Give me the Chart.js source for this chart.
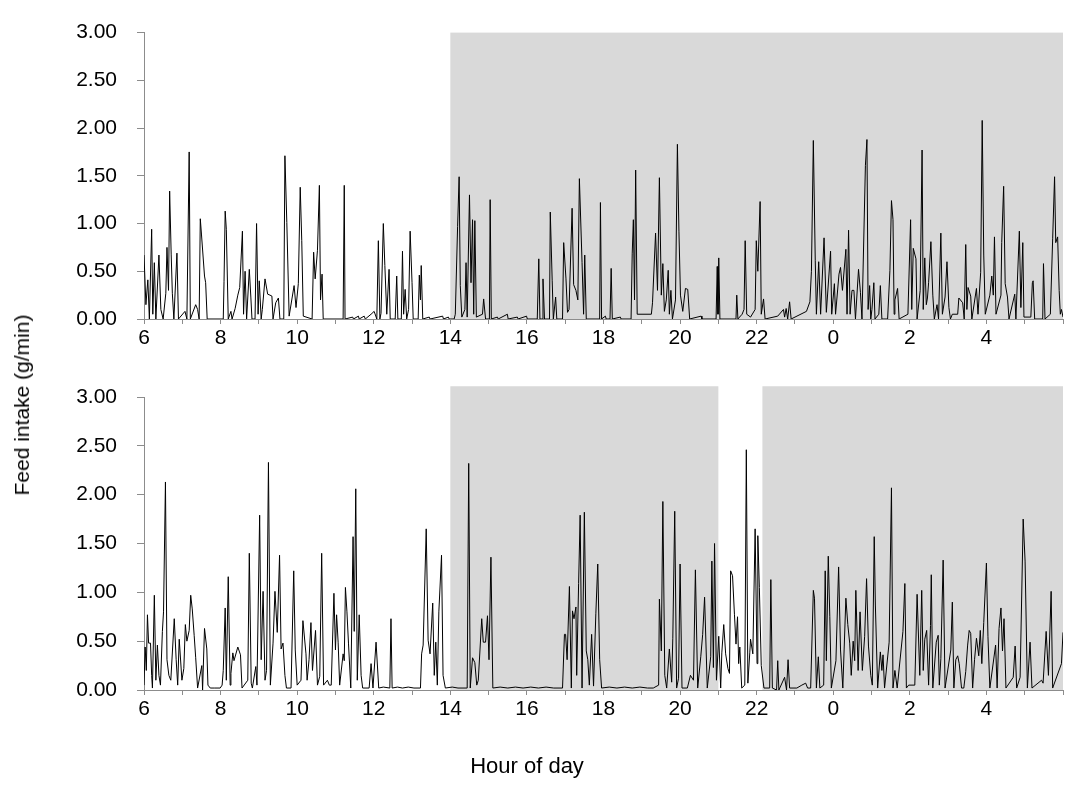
<!DOCTYPE html>
<html>
<head>
<meta charset="utf-8">
<script src="https://cdn.jsdelivr.net/npm/chart.js@4.4.1/dist/chart.umd.min.js"></script>
<style>
  html, body { margin: 0; padding: 0; background: #fff; }
  body { width: 1065px; height: 811px; position: relative; overflow: hidden; font-family: 'Liberation Sans', Arial, sans-serif; }
  canvas { position: absolute; left: 0; }
  #top { top: 0; }
  #bottom { top: 360px; }
  .title { position: absolute; font-size: 21px; color: #000; white-space: nowrap; }
  #ytitle { left: 22px; top: 405px; transform: translate(-50%, -50%) rotate(-90deg); }
  #xtitle { left: 527px; top: 766px; font-size: 22px; transform: translate(-50%, -50%); }
</style>
</head>
<body>
<canvas id="top" width="1065" height="360"></canvas>
<canvas id="bottom" width="1065" height="451"></canvas>
<div class="title" id="ytitle">Feed intake (g/min)</div>
<div class="title" id="xtitle">Hour of day</div>
<script>
// hours run from 6:00 to 6:00 next day (values past 24 are after midnight)
const hourMin = 6;
const hourMax = 30;
const yTicks = [0, 0.5, 1, 1.5, 2, 2.5, 3];

// dark (lights off) periods, [start hour, end hour]
const topDark = [[14, 30]];
const bottomDark = [[14, 21], [22.15, 30]];
const topDarkHeight = 3.0;
const bottomDarkHeight = 3.11;

// [hour, feed intake g/min]
const topSeries = [
  [6.00,0.67],[6.05,0.15],[6.10,0.41],[6.14,0],[6.20,0.94],[6.23,0.05],[6.27,0.59],[6.31,0],[6.39,0.67],[6.44,0.10],
  [6.50,0],[6.57,0.27],[6.60,0.75],[6.64,0.30],[6.67,1.34],[6.71,0.68],[6.74,0.27],[6.78,0],[6.86,0.69],[6.90,0],
  [7.07,0.08],[7.12,0],[7.18,1.75],[7.21,0],[7.35,0.15],[7.40,0.10],[7.44,0],[7.47,1.05],[7.50,0.89],[7.58,0.45],
  [7.61,0.38],[7.65,0],[8.07,0],[8.09,0.39],[8.12,1.13],[8.15,0.94],[8.20,0],[8.27,0.08],[8.30,0],[8.38,0.11],
  [8.45,0.25],[8.50,0.33],[8.57,0.92],[8.60,0.05],[8.64,0.50],[8.68,0],[8.75,0.52],[8.79,0.23],[8.82,0],[8.90,0],
  [8.94,1.00],[8.98,0.05],[9.01,0.40],[9.06,0],[9.09,0.10],[9.16,0.42],[9.23,0.26],[9.29,0.25],[9.34,0.24],[9.37,0],
  [9.44,0.17],[9.51,0.22],[9.55,0],[9.65,0],[9.68,1.71],[9.73,1.01],[9.79,0.03],[9.92,0.35],[9.97,0.12],[10.03,0.37],
  [10.08,1.38],[10.12,0.82],[10.16,0.03],[10.39,0],[10.43,0.70],[10.47,0.42],[10.53,0.72],[10.58,1.40],[10.61,0.20],[10.65,0.47],
  [10.68,0],[11.20,0],[11.23,1.40],[11.25,0],[11.45,0.02],[11.47,0],[11.60,0.03],[11.62,0],[11.75,0.03],[11.78,0],
  [11.93,0.05],[12.01,0.08],[12.08,0],[12.12,0.82],[12.16,0],[12.19,0.06],[12.25,1.00],[12.29,0.56],[12.34,0.05],[12.40,0.52],
  [12.43,0],[12.56,0],[12.60,0.45],[12.63,0],[12.72,0],[12.75,0.71],[12.78,0.05],[12.82,0.31],[12.86,0],[12.91,0.10],
  [12.95,0.92],[13.00,0.38],[13.03,0],[13.16,0],[13.19,0.46],[13.22,0.20],[13.24,0.56],[13.28,0],[13.45,0.02],[13.47,0],
  [13.80,0.03],[13.82,0],[13.95,0.02],[13.97,0],[14.10,0],[14.13,0.05],[14.19,0.97],[14.23,1.49],[14.26,0.35],[14.30,0.02],
  [14.38,0.10],[14.41,0.59],[14.44,0.02],[14.50,1.30],[14.54,0.38],[14.58,1.04],[14.61,0.05],[14.64,1.03],[14.68,0.02],[14.84,0.05],
  [14.87,0.21],[14.92,0],[15.02,0],[15.04,1.25],[15.07,0],[15.23,0.02],[15.25,0],[15.49,0.05],[15.51,0],[15.75,0.02],
  [15.77,0],[15.99,0.03],[16.01,0],[16.27,0],[16.31,0.63],[16.34,0],[16.40,0],[16.42,0.42],[16.46,0],[16.59,0],
  [16.61,1.12],[16.66,0.40],[16.69,0],[16.75,0.23],[16.78,0],[16.93,0],[16.96,0.80],[17.02,0.42],[17.06,0.07],[17.10,0.10],
  [17.18,1.16],[17.22,0.36],[17.28,0.30],[17.33,0.20],[17.37,1.47],[17.44,0.59],[17.48,0.05],[17.51,0.67],[17.55,0],[17.90,0],
  [17.92,1.22],[17.95,0],[18.05,0.03],[18.07,0],[18.17,0],[18.20,0.53],[18.23,0],[18.44,0.02],[18.46,0],[18.72,0],
  [18.75,0.69],[18.78,1.04],[18.81,0.20],[18.84,1.56],[18.88,0.05],[19.25,0.05],[19.28,0.17],[19.36,0.90],[19.41,0.30],[19.46,1.48],
  [19.51,0.25],[19.55,0.58],[19.59,0.08],[19.64,0.20],[19.69,0.51],[19.72,0.05],[19.76,0.30],[19.80,0],[19.88,0.20],[19.93,1.83],
  [19.97,0.92],[20.01,0.25],[20.07,0.08],[20.14,0.32],[20.20,0.31],[20.25,0],[20.55,0.03],[20.57,0],[20.94,0],[20.97,0.55],
  [20.99,0.05],[21.01,0.64],[21.04,0],[21.46,0],[21.48,0.25],[21.51,0],[21.62,0.05],[21.67,0.10],[21.70,0.82],[21.74,0.05],
  [21.84,0.02],[21.96,0.10],[21.99,0.82],[22.03,0.50],[22.09,1.23],[22.12,0.05],[22.18,0.21],[22.22,0],[22.55,0.03],[22.70,0.10],
  [22.73,0.02],[22.77,0.11],[22.81,0],[22.86,0.18],[22.90,0],[23.30,0.08],[23.39,0.18],[23.43,0.50],[23.48,1.87],[23.53,0.61],
  [23.56,0.05],[23.62,0.60],[23.67,0.05],[23.76,0.85],[23.82,0.07],[23.93,0.71],[23.96,0.05],[24.03,0.37],[24.06,0.05],[24.15,0.47],
  [24.19,0.54],[24.24,0.30],[24.33,0.73],[24.36,0.05],[24.40,0.93],[24.44,0.05],[24.49,0.30],[24.54,0.30],[24.58,0],[24.66,0.52],
  [24.71,0.28],[24.75,0],[24.84,1.61],[24.88,1.88],[24.91,0.10],[24.95,0.35],[24.98,0],[25.01,0.10],[25.06,0.38],[25.09,0],
  [25.19,0.05],[25.23,0.35],[25.27,0],[25.42,0],[25.48,0.51],[25.52,1.24],[25.56,1.04],[25.59,0.05],[25.61,0.20],[25.68,0.32],
  [25.72,0],[25.95,0.05],[26.02,1.04],[26.05,0.10],[26.09,0.74],[26.16,0.63],[26.19,0],[26.27,0.30],[26.32,1.77],[26.35,0.10],
  [26.39,0.64],[26.43,0.15],[26.46,0.22],[26.49,0.38],[26.55,0.81],[26.60,0.25],[26.64,0],[26.71,0.15],[26.75,0],[26.81,0.90],
  [26.85,0.05],[26.92,0.23],[26.97,0.60],[27.02,0.12],[27.06,0],[27.11,0.05],[27.25,0.05],[27.28,0.22],[27.38,0.17],[27.42,0],
  [27.46,0.78],[27.49,0.10],[27.52,0.33],[27.59,0.24],[27.62,0],[27.74,0.32],[27.78,0.05],[27.85,0.49],[27.89,2.08],[27.93,0.67],
  [27.97,0.05],[28.09,0.25],[28.14,0.45],[28.18,0.25],[28.21,0.86],[28.25,0.05],[28.38,0.25],[28.40,0.80],[28.45,1.39],[28.49,0.37],
  [28.55,0.23],[28.59,0],[28.74,0.26],[28.77,0],[28.86,0.92],[28.90,0.12],[28.95,0.80],[28.98,0.02],[29.16,0.02],[29.20,0.38],
  [29.22,0.40],[29.26,0],[29.47,0],[29.49,0.58],[29.53,0],[29.67,0.05],[29.73,0.84],[29.78,1.49],[29.81,0.80],[29.86,0.86],
  [29.90,0.30],[29.93,0.05],[29.96,0.10],[30.00,0.02]
];

// [hour, feed intake g/min]
const bottomSeries = [
  [6.00,0.05],[6.03,0.44],[6.06,0.20],[6.09,0.77],[6.12,0.48],[6.17,0.48],[6.20,0.15],[6.22,0.02],[6.27,0.97],[6.31,0.10],
  [6.35,0.46],[6.39,0.15],[6.43,0.05],[6.48,0.60],[6.51,0.80],[6.56,2.13],[6.60,0.31],[6.65,0.15],[6.70,0.10],[6.79,0.73],
  [6.84,0.31],[6.88,0.05],[6.92,0.52],[6.99,0.10],[7.04,0.22],[7.08,0.67],[7.12,0.50],[7.18,0.61],[7.22,0.97],[7.26,0.83],
  [7.31,0.56],[7.35,0.33],[7.40,0.02],[7.51,0.25],[7.53,0],[7.58,0.63],[7.64,0.42],[7.67,0.05],[7.73,0.02],[7.85,0.02],
  [7.99,0.02],[8.04,0.05],[8.07,0.20],[8.12,0.84],[8.15,0.10],[8.20,1.16],[8.25,0.05],[8.27,0.17],[8.32,0.38],[8.35,0.30],
  [8.45,0.44],[8.52,0.36],[8.56,0.02],[8.71,0.10],[8.75,1.40],[8.80,0.07],[8.83,0.02],[8.92,0.24],[8.95,0.05],[9.02,1.79],
  [9.06,0.31],[9.11,1.01],[9.16,0.10],[9.20,0.20],[9.25,2.33],[9.30,0.05],[9.37,0.48],[9.42,1.01],[9.48,0.59],[9.54,1.38],
  [9.58,0.42],[9.63,0.48],[9.68,0.15],[9.72,0.02],[9.84,0.02],[9.91,1.22],[9.95,0.41],[10.00,0.05],[10.10,0.10],[10.15,0.71],
  [10.23,0.37],[10.26,0.10],[10.31,0.31],[10.36,0.69],[10.40,0.20],[10.48,0.61],[10.53,0.05],[10.59,0.14],[10.64,1.40],[10.69,0.05],
  [10.79,0.10],[10.84,0.05],[10.89,0.05],[10.96,0.99],[11.00,0.41],[11.03,0.77],[11.07,0.49],[11.11,0.05],[11.20,0.37],[11.23,0.30],
  [11.26,1.05],[11.30,0.80],[11.34,0.48],[11.40,0.02],[11.46,1.57],[11.49,0.60],[11.53,2.06],[11.57,0.10],[11.62,0.77],[11.67,0.15],
  [11.71,0.02],[11.88,0.02],[11.93,0.27],[11.98,0.02],[12.06,0.49],[12.13,0.02],[12.25,0.03],[12.42,0.02],[12.45,0.73],[12.48,0.02],
  [12.62,0.03],[12.75,0.02],[12.90,0.03],[13.05,0.02],[13.22,0.02],[13.25,0.37],[13.29,0.46],[13.37,1.65],[13.42,0.51],[13.47,0.37],
  [13.54,0.89],[13.58,0.15],[13.62,0.49],[13.66,0.05],[13.70,0.80],[13.77,1.38],[13.81,0.15],[13.87,0.02],[14.05,0.03],[14.20,0.02],
  [14.44,0.02],[14.48,2.32],[14.52,0.02],[14.58,0.33],[14.64,0.28],[14.69,0.05],[14.73,0.10],[14.82,0.73],[14.86,0.49],[14.92,0.49],
  [14.97,0.76],[15.01,0.31],[15.06,1.36],[15.11,0.02],[15.30,0.03],[15.50,0.02],[15.70,0.03],[15.90,0.02],[16.10,0.03],[16.30,0.02],
  [16.50,0.03],[16.70,0.02],[16.93,0.02],[16.98,0.57],[17.01,0.57],[17.05,0.31],[17.11,1.06],[17.16,0.02],[17.19,0.81],[17.23,0.73],
  [17.28,0.85],[17.30,0.15],[17.35,1.09],[17.39,1.79],[17.44,0.02],[17.50,1.82],[17.55,0.40],[17.59,0.31],[17.63,0.05],[17.69,0.57],
  [17.74,0.04],[17.80,0.78],[17.85,1.29],[17.90,0.31],[17.95,0.02],[18.15,0.03],[18.35,0.02],[18.55,0.03],[18.75,0.02],[18.95,0.03],
  [19.15,0.02],[19.30,0.02],[19.44,0.05],[19.46,0.93],[19.51,0.40],[19.55,1.93],[19.60,0.15],[19.65,0.02],[19.72,0.42],[19.78,0.08],
  [19.81,0.53],[19.86,1.83],[19.91,0.02],[19.96,0.12],[20.00,1.29],[20.05,0.02],[20.19,0.02],[20.27,0.15],[20.35,0.10],[20.40,1.23],
  [20.46,0.02],[20.54,0.34],[20.59,0.57],[20.64,0.95],[20.71,0.02],[20.80,0.34],[20.83,1.32],[20.87,0.23],[20.90,1.50],[20.95,0.10],
  [21.01,0.55],[21.06,0.02],[21.09,0.38],[21.14,0.67],[21.19,0.37],[21.25,0.22],[21.29,0.17],[21.32,1.22],[21.37,1.17],[21.42,0.77],
  [21.46,0.47],[21.50,0.75],[21.53,0.27],[21.56,0.44],[21.61,0.02],[21.69,0.05],[21.73,2.46],[21.77,0.07],[21.82,0.38],[21.84,0.52],
  [21.90,0.37],[21.96,1.65],[22.01,0.27],[22.03,1.58],[22.07,1.05],[22.12,0.25],[22.19,0.02],[22.34,0.02],[22.37,1.13],[22.41,0.02],
  [22.52,0],[22.55,0.30],[22.58,0],[22.73,0.13],[22.78,0],[22.82,0.31],[22.86,0.02],[23.05,0.02],[23.18,0.05],[23.28,0.07],
  [23.33,0.02],[23.41,0.02],[23.48,1.02],[23.51,0.94],[23.56,0.02],[23.61,0.34],[23.65,0.02],[23.75,0.05],[23.79,1.22],[23.82,0.30],
  [23.87,1.37],[23.91,0.75],[23.95,0.02],[24.07,0.30],[24.14,1.26],[24.19,0.41],[24.25,0.02],[24.33,0.94],[24.38,0.67],[24.43,0.48],
  [24.47,0.15],[24.52,0.50],[24.56,0.30],[24.59,1.02],[24.65,0.20],[24.70,0.80],[24.76,0.20],[24.82,0.55],[24.87,1.14],[24.92,0.45],
  [24.98,0.15],[25.02,0.05],[25.07,1.57],[25.10,0.87],[25.16,0.02],[25.23,0.39],[25.27,0.20],[25.30,0.36],[25.34,0.02],[25.46,0.49],
  [25.52,2.07],[25.56,0.02],[25.61,0.20],[25.67,0.02],[25.82,0.60],[25.87,1.09],[25.91,0.02],[25.97,0.05],[26.13,0.05],[26.19,0.98],
  [26.26,0.15],[26.31,1.02],[26.35,0.20],[26.39,0.52],[26.44,0.61],[26.49,0.05],[26.54,0.66],[26.56,1.18],[26.60,0.02],[26.69,0.49],
  [26.74,0.56],[26.77,0.05],[26.81,0.32],[26.87,1.33],[26.92,0.02],[27.07,0.41],[27.11,0.90],[27.15,0.02],[27.20,0.31],[27.25,0.35],
  [27.29,0.27],[27.35,0.02],[27.41,0.02],[27.46,0.19],[27.51,0.46],[27.55,0.61],[27.59,0.58],[27.64,0.02],[27.69,0.31],[27.74,0.53],
  [27.80,0.35],[27.84,0.61],[27.88,0.27],[27.93,0.69],[28.00,1.30],[28.04,0.55],[28.09,0.02],[28.24,0.46],[28.28,0.02],[28.33,0.63],
  [28.38,0.84],[28.42,0.40],[28.46,0.73],[28.51,0.02],[28.70,0.13],[28.75,0.45],[28.79,0.02],[28.88,0.13],[28.96,1.75],[29.01,1.32],
  [29.07,0.02],[29.14,0.49],[29.19,0.02],[29.44,0.10],[29.48,0.07],[29.56,0.60],[29.62,0.15],[29.69,1.01],[29.73,0.02],[29.96,0.27],
  [30.00,0.59]
];

const axisGray = '#8c8c8c';
const shadeGray = '#d9d9d9';
const tickFont = { family: "'Liberation Sans', Arial, sans-serif", size: 21 };

const darkShade = {
  id: 'darkShade',
  beforeDraw(chart, args, opts) {
    const { ctx, scales: { x, y } } = chart;
    ctx.save();
    ctx.fillStyle = shadeGray;
    opts.periods.forEach(([a, b]) => {
      const x1 = x.getPixelForValue(a);
      const x2 = x.getPixelForValue(b);
      const y1 = y.getPixelForValue(opts.height);
      const y2 = y.getPixelForValue(0);
      ctx.fillRect(x1, y1, x2 - x1, y2 - y1);
    });
    ctx.restore();
  }
};

function makePanel(canvasId, series, periods, shadeHeight, padTop, xHeight) {
  return new Chart(document.getElementById(canvasId), {
    type: 'line',
    data: {
      datasets: [{
        data: series.map(([h, v]) => ({ x: h, y: v })),
        borderColor: '#000',
        borderWidth: 1,
        pointRadius: 0,
        tension: 0,
        fill: false
      }]
    },
    options: {
      responsive: false,
      animation: false,
      layout: { padding: { top: padTop, right: 2, bottom: 0, left: 0 } },
      plugins: {
        legend: { display: false },
        tooltip: { enabled: false },
        darkShade: { periods: periods, height: shadeHeight }
      },
      scales: {
        x: {
          type: 'linear',
          min: hourMin,
          max: hourMax,
          afterFit: (s) => { s.height = xHeight; },
          afterBuildTicks: (s) => {
            s.ticks = [];
            for (let h = hourMin; h <= hourMax; h++) s.ticks.push({ value: h });
          },
          ticks: {
            autoSkip: false,
            maxRotation: 0,
            padding: 2,
            color: '#000',
            font: tickFont,
            callback: (v) => (v % 2 === 0 && v < hourMax) ? String(v % 24) : ''
          },
          grid: { drawOnChartArea: false, tickLength: 5, color: axisGray },
          border: { color: axisGray }
        },
        y: {
          min: 0,
          max: 3,
          afterFit: (s) => { s.width = 144; },
          afterBuildTicks: (s) => { s.ticks = yTicks.map(v => ({ value: v })); },
          ticks: {
            padding: 20,
            color: '#000',
            font: tickFont,
            callback: (v) => Number(v).toFixed(2)
          },
          grid: { drawOnChartArea: false, tickLength: 7, color: axisGray },
          border: { color: axisGray }
        }
      }
    },
    plugins: [darkShade]
  });
}

makePanel('top', topSeries, topDark, topDarkHeight, 28, 41);
makePanel('bottom', bottomSeries, bottomDark, bottomDarkHeight, 37, 121);
</script>
</body>
</html>
